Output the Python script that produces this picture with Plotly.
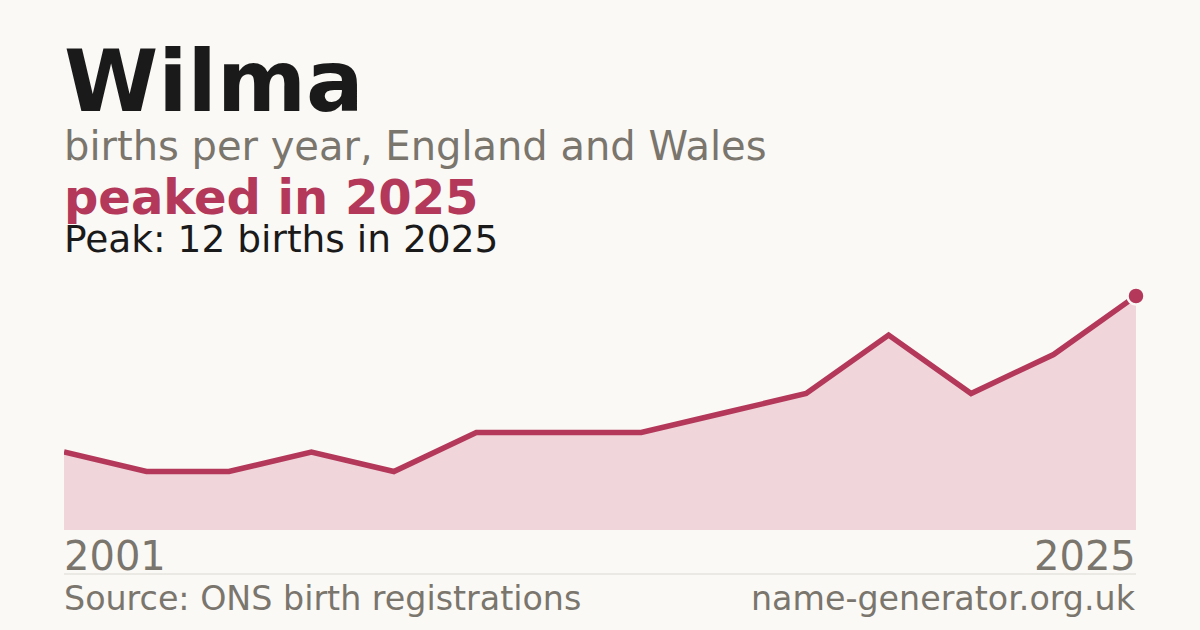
import plotly.graph_objects as go

# ---- data ----
name = "Wilma"
first_year = 2001
last_year = 2025
births = [4, 3, 3, 4, 3, 5, 5, 5, 6, 7, 10, 7, 9, 12]
peak_value = max(births)
peak_year = last_year

# ---- style ----
BG = "#faf9f5"
CRIMSON = "#b3385a"
FILL = "#f0d5da"
GRAY = "#7a756d"
DARK = "#1a1a1a"
FONT = "DejaVu Sans"

W, H = 1200, 630
L, R, T, B = 64, 64, 270, 100
plot_h = H - T - B
y0_px, y12_px = 530, 296
ymax = peak_value * (y0_px - T) / (y0_px - y12_px)

xs = list(range(len(births)))


def py(p):
    return (H - B - p) / plot_h


fig = go.Figure()
fig.add_trace(go.Scatter(
    x=xs, y=births, mode="lines", fill="tozeroy", fillcolor=FILL,
    line=dict(width=0, color=FILL), hoverinfo="skip", showlegend=False))
fig.add_trace(go.Scatter(
    x=xs, y=births, mode="lines", line=dict(width=5.5, color=CRIMSON),
    hoverinfo="skip", showlegend=False, cliponaxis=False))
fig.add_trace(go.Scatter(
    x=[xs[-1]], y=[births[-1]], mode="markers",
    marker=dict(size=17, color=CRIMSON, line=dict(width=2.5, color=BG)),
    hoverinfo="skip", showlegend=False, cliponaxis=False))

annos = [
    dict(text=f"<b>{name}</b>", size=85.5, color=DARK, y=82, x=0, xa="left"),
    dict(text="births per year, England and Wales", size=40, color=GRAY, y=146, x=0, xa="left"),
    dict(text=f"<b>peaked in {peak_year}</b>", size=48, color=CRIMSON, y=197, x=0, xa="left"),
    dict(text=f"Peak: {peak_value} births in {peak_year}", size=37.5, color=DARK, y=239, x=0, xa="left"),
    dict(text=str(first_year), size=40, color=GRAY, y=556, x=0, xa="left"),
    dict(text=str(last_year), size=40, color=GRAY, y=556, x=1, xa="right"),
    dict(text="Source: ONS birth registrations", size=33.3, color=GRAY, y=598, x=0, xa="left"),
    dict(text="name-generator.org.uk", size=33.3, color=GRAY, y=598, x=1, xa="right"),
]
for a in annos:
    fig.add_annotation(
        text=a["text"], xref="paper", yref="paper", x=a["x"], y=py(a["y"]),
        xanchor=a["xa"], yanchor="middle", showarrow=False,
        xshift=-2 if a["xa"] == "left" else 2,
        font=dict(family=FONT, size=a["size"], color=a["color"]))

fig.add_shape(type="line", xref="paper", yref="paper", x0=0, x1=1,
              y0=py(574), y1=py(574), line=dict(color="#dcd9d2", width=1))

fig.update_layout(
    width=W, height=H, paper_bgcolor=BG, plot_bgcolor=BG,
    margin=dict(l=L, r=R, t=T, b=B),
    xaxis=dict(range=[0, len(births) - 1], visible=False, fixedrange=True),
    yaxis=dict(range=[0, ymax], visible=False, fixedrange=True),
    font=dict(family=FONT),
)

fig.write_html("out.html", config={"displayModeBar": False},
               post_script="document.body.style.margin='0';document.body.style.background='" + BG + "';")
